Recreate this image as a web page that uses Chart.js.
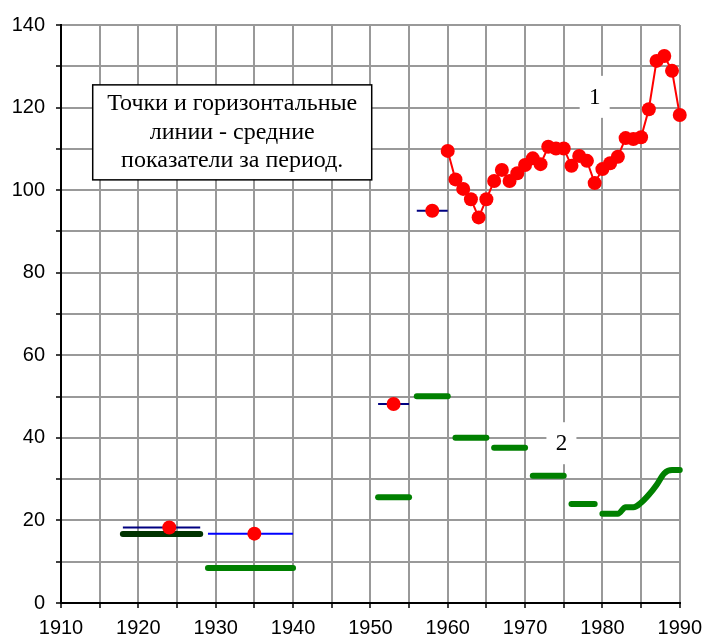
<!DOCTYPE html>
<html>
<head>
<meta charset="utf-8">
<script src="https://cdn.jsdelivr.net/npm/chart.js@4/dist/chart.umd.min.js"></script>
<style>
  body { margin: 0; background: #fff; }
  #wrap { width: 710px; height: 637px; }
</style>
</head>
<body>
<div id="wrap"><canvas id="trendChart" width="710" height="637"></canvas></div>
<script>
// series 1: yearly values 1960-1990
const years1 = [1960, 1961, 1962, 1963, 1964, 1965, 1966, 1967, 1968, 1969, 1970,
  1971, 1972, 1973, 1974, 1975, 1976, 1977, 1978, 1979, 1980,
  1981, 1982, 1983, 1984, 1985, 1986, 1987, 1988, 1989, 1990];
const values1 = [109.5, 102.6, 100.3, 97.8, 93.4, 97.8, 102.2, 104.9, 102.2, 104.1, 106.1,
  107.7, 106.3, 110.5, 110.1, 110.1, 105.9, 108.3, 107.1, 101.7, 105.1,
  106.5, 108.1, 112.6, 112.4, 112.8, 119.6, 131.3, 132.5, 128.9, 118.2];

// period averages (points + blue lines)
const avgYears = [1924, 1935, 1953, 1958];
const avgValues = [18.3, 16.8, 48.2, 95.0];
const avgStart = [1918, 1929, 1951, 1956];
const avgEnd = [1928, 1940, 1955, 1960];

// series 2: period averages (green bars)
const greenStart = [1918, 1929, 1951, 1956, 1961, 1966, 1971, 1976];
const greenEnd = [1928, 1940, 1955, 1960, 1965, 1970, 1975, 1979];
const greenValues = [16.7, 8.5, 25.6, 50.1, 40.0, 37.6, 30.8, 24.0];

// series 2: yearly values 1980-1990
const years2 = [1980, 1981, 1982, 1983, 1984, 1985, 1986, 1987, 1988, 1989, 1990];
const values2 = [21.6, 21.6, 21.6, 23.2, 23.2, 24.3, 26.2, 28.6, 31.4, 32.2, 32.2];

const noteLines = ["Точки и горизонтальные", "линии - средние", "показатели за период."];

const datasets = [];

datasets.push({
  data: avgYears.map((x, i) => ({ x: x, y: avgValues[i] })),
  showLine: false,
  pointRadius: 7,
  pointBackgroundColor: "#ff0000",
  pointBorderWidth: 0,
  clip: false,
});

datasets.push({
  data: years1.map((x, i) => ({ x: x, y: values1[i] })),
  borderColor: "#ff0000",
  borderWidth: 2,
  pointRadius: 7,
  pointBackgroundColor: "#ff0000",
  pointBorderWidth: 0,
  clip: false,
});

avgStart.forEach((s, i) => {
  datasets.push({
    data: [{ x: s, y: avgValues[i] }, { x: avgEnd[i], y: avgValues[i] }],
    borderColor: i === 1 ? "#0000ff" : "#000080",
    borderWidth: 2,
    pointRadius: 0,
  });
});

greenStart.forEach((s, i) => {
  datasets.push({
    data: [{ x: s, y: greenValues[i] }, { x: greenEnd[i], y: greenValues[i] }],
    borderColor: i === 0 ? "#003300" : "#008000",
    borderWidth: 6,
    borderCapStyle: "round",
    pointRadius: 0,
  });
});

datasets.push({
  data: years2.map((x, i) => ({ x: x, y: values2[i] })),
  borderColor: "#008000",
  borderWidth: 6,
  borderCapStyle: "round",
  borderJoinStyle: "round",
  cubicInterpolationMode: "monotone",
  pointRadius: 0,
  clip: false,
});

const notes = {
  id: "notes",
  afterDatasetsDraw(chart) {
    const c = chart.ctx;
    const xs = chart.scales.x, ys = chart.scales.y;
    c.save();
    // text box
    const bx = xs.getPixelForValue(1914.1), by = ys.getPixelForValue(125.5);
    const bw = 279, bh = 95;
    c.fillStyle = "#fff";
    c.fillRect(bx, by, bw, bh);
    c.strokeStyle = "#000";
    c.lineWidth = 1.5;
    c.strokeRect(bx, by, bw, bh);
    c.fillStyle = "#000";
    c.font = "24px 'Liberation Serif'";
    c.textAlign = "center";
    c.textBaseline = "middle";
    noteLines.forEach((t, i) => c.fillText(t, bx + bw / 2, by + 19 + i * 28.5));
    // series labels
    c.font = "23px 'Liberation Serif'";
    [["1", 1979.0, 122.6], ["2", 1974.7, 38.7]].forEach(([t, x, y]) => {
      const px = xs.getPixelForValue(x), py = ys.getPixelForValue(y);
      c.fillStyle = "#fff";
      c.fillRect(px - 15, py - 21, 30, 42);
      c.fillStyle = "#000";
      c.fillText(t, px, py + 1);
    });
    c.restore();
  },
};

const tickFont = { family: "'Liberation Sans', Arial", size: 20 };

new Chart(document.getElementById("trendChart"), {
  type: "line",
  data: { datasets: datasets },
  options: {
    responsive: false,
    animation: false,
    devicePixelRatio: 1,
    layout: { padding: { top: 25, right: 27, left: 0, bottom: 0 } },
    plugins: { legend: { display: false }, tooltip: { enabled: false } },
    scales: {
      x: {
        type: "linear",
        min: 1910,
        max: 1990,
        afterFit: (s) => { s.height = 34; },
        ticks: {
          stepSize: 5,
          color: "#000",
          font: tickFont,
          padding: 8,
          maxRotation: 0,
          autoSkip: false,
          callback: (v) => (v % 10 === 0 ? String(v) : ""),
        },
        grid: { color: "#999", lineWidth: 2, tickColor: "#000", tickLength: 5, tickWidth: 1.5 },
        border: { color: "#000", width: 2 },
      },
      y: {
        min: 0,
        max: 140,
        afterFit: (s) => { s.width = 61; },
        ticks: {
          stepSize: 10,
          color: "#000",
          font: tickFont,
          padding: 11,
          autoSkip: false,
          callback: (v) => (v % 20 === 0 ? String(v) : ""),
        },
        grid: { color: "#999", lineWidth: 2, tickColor: "#000", tickLength: 5, tickWidth: 1.5 },
        border: { color: "#000", width: 2 },
      },
    },
  },
  plugins: [notes],
});
</script>
</body>
</html>
